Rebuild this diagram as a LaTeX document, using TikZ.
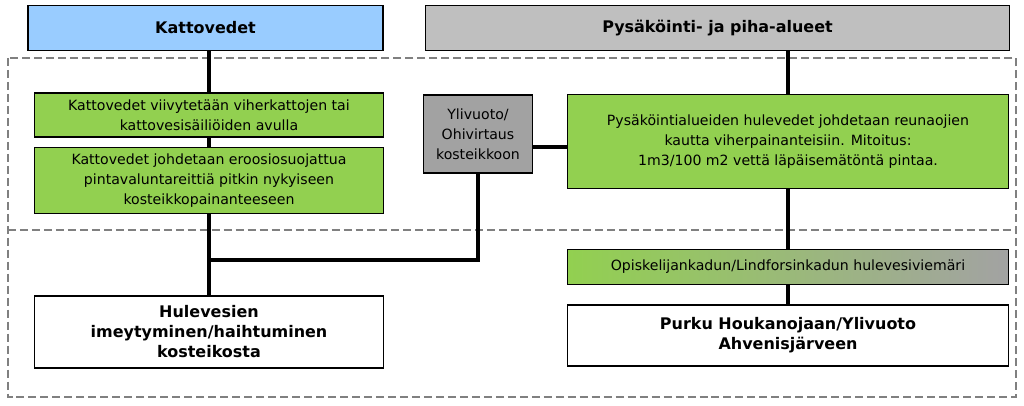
\documentclass[tikz,border=0pt]{standalone}
\usepackage{fontspec}
\setmainfont{DejaVu Sans}
\usetikzlibrary{positioning}
\definecolor{skyblue}{HTML}{99CCFF}
\definecolor{leafgreen}{HTML}{92D050}
\definecolor{stonegrey}{HTML}{BFBFBF}
\tikzset{
  box/.style={draw, thick, align=center, inner sep=0pt, font=\fontsize{10.6}{15}\selectfont},
  head/.style={box, font=\fontsize{12}{15}\selectfont\bfseries},
  pipe/.style={line width=3pt},
  zone/.style={gray, line width=1.4pt, dash pattern=on 6pt off 3pt},
}
\begin{document}
\begin{tikzpicture}[x=0.0264cm, y=-0.0264cm]
    \useasboundingbox (0,0) rectangle (1024,406);
    % zones
    \draw[zone] (8,58) rectangle (1016,397);
    \draw[zone] (8,230) -- (1016,230);

    % headers
    \node[head, fill=skyblue, minimum width=9.37cm, minimum height=1.19cm] (roof) at (205.5,28) {Kattovedet};
    \node[head, fill=stonegrey, minimum width=15.44cm, minimum height=1.19cm] (yard) at (717.5,28) {Pysäköinti- ja piha-alueet};

    % left column
    \node[box, fill=leafgreen, minimum width=9.19cm, minimum height=1.16cm] (green) at (209,115) {Kattovedet viivytetään viherkattojen tai\\kattovesisäiliöiden avulla};
    \node[box, fill=leafgreen, minimum width=9.19cm, minimum height=1.72cm] (route) at (209,180.5) {Kattovedet johdetaan eroosiosuojattua\\pintavaluntareittiä pitkin nykyiseen\\kosteikkopainanteeseen};
    \node[head, fill=white, minimum width=9.19cm, minimum height=1.90cm] (soak) at (209,332) {Hulevesien\\imeytyminen/haihtuminen\\kosteikosta};

    % overflow
    \node[box, fill=stonegrey!85!black, minimum width=2.9cm, minimum height=2.06cm] (over) at (478,134) {Ylivuoto/\\Ohivirtaus\\kosteikkoon};

    % right column
    \node[box, fill=leafgreen, minimum width=11.62cm, minimum height=2.46cm] (park) at (788,141.5) {Pysäköintialueiden hulevedet johdetaan reunaojien\\kautta viherpainanteisiin. Mitoitus:\\1m3/100 m2 vettä läpäisemätöntä pintaa.};
    \node[box, left color=leafgreen, right color=stonegrey!85!black, minimum width=11.62cm, minimum height=0.90cm] (sewer) at (788,267) {Opiskelijankadun/Lindforsinkadun hulevesiviemäri};
    \node[head, fill=white, minimum width=11.62cm, minimum height=1.61cm] (outlet) at (788,335.5) {Purku Houkanojaan/Ylivuoto\\Ahvenisjärveen};

    % connections
    \coordinate (bend) at (209,260);
    \draw[pipe] (roof.south -| green.north) -- (green.north);
    \draw[pipe] (green.south) -- (route.north);
    \draw[pipe] (route.south) -- (soak.north);
    \draw[pipe] (bend) -| (over.south);
    \draw[pipe] (over.east |- route.north) -- (park.west |- route.north);
    \draw[pipe] (yard.south -| park.north) -- (park.north);
    \draw[pipe] (park.south) -- (sewer.north);
    \draw[pipe] (sewer.south) -- (outlet.north);
\end{tikzpicture}
\end{document}
